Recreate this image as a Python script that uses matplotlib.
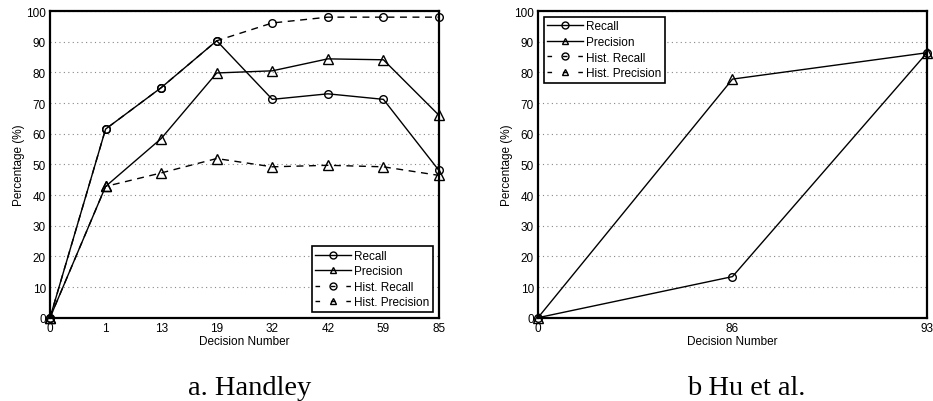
import matplotlib
matplotlib.use('Agg')
import matplotlib.pyplot as plt
from matplotlib.lines import Line2D

plt.rcParams['font.family'] = ['Liberation Sans', 'DejaVu Sans']

# a. Handley
handley_ticks = ['0', '1', '13', '19', '32', '42', '59', '85']
handley_recall = [0, 61.5, 75.0, 90.3, 71.2, 73.0, 71.2, 48.0]
handley_precision = [0, 42.8, 58.4, 79.8, 80.5, 84.4, 84.1, 66.0]
handley_hist_recall = [0, 61.5, 75.0, 90.3, 96.1, 98.0, 98.0, 98.0]
handley_hist_precision = [0, 42.8, 47.2, 51.9, 49.2, 49.7, 49.2, 46.4]

# b Hu et al.
hu_ticks = ['0', '86', '93']
hu_recall = [0, 13.4, 86.4]
hu_precision = [0, 77.8, 86.4]

fig = plt.figure(figsize=(9.33, 4.02), dpi=100)
ax1 = fig.add_axes([0.0536, 0.2072, 0.4169, 0.7629])
ax2 = fig.add_axes([0.5766, 0.2072, 0.4170, 0.7629])

base = dict(color='black', lw=1.0, markerfacecolor='none',
            markeredgecolor='black', markeredgewidth=1.0, clip_on=False, zorder=3)
circ = dict(marker='o', markersize=5.5, **base)
tri = dict(marker='^', markersize=6.5, **base)
dash = (0, (5, 4))


def style(ax, ticks):
    n = len(ticks)
    ax.set_xlim(0, n - 1)
    ax.set_ylim(0, 100)
    ax.set_xticks(range(n))
    ax.set_xticklabels(ticks)
    ax.set_yticks(range(0, 101, 10))
    ax.tick_params(labelsize=8.5, length=0, pad=3)
    ax.yaxis.grid(True, linestyle=(0, (1, 3)), color='#888888', lw=0.8)
    ax.set_axisbelow(True)
    for s in ax.spines.values():
        s.set_linewidth(1.6)
    ax.set_xlabel('Decision Number', fontsize=8.5, labelpad=1)
    ax.set_ylabel('Percentage (%)', fontsize=8.5, labelpad=1)


x1 = range(len(handley_ticks))
ax1.plot(x1, handley_hist_recall, ls=dash, **circ)
ax1.plot(x1, handley_hist_precision, ls=dash, **tri)
ax1.plot(x1, handley_recall, ls='-', **circ)
ax1.plot(x1, handley_precision, ls='-', **tri)
style(ax1, handley_ticks)

x2 = range(len(hu_ticks))
ax2.plot(x2, hu_recall, ls='-', **circ)
ax2.plot(x2, hu_precision, ls='-', **tri)
style(ax2, hu_ticks)

lkw = dict(color='black', lw=1.0, markersize=5, markerfacecolor='none',
           markeredgecolor='black', markeredgewidth=1.0)
handles = [
    Line2D([], [], ls='-', marker='o', **lkw),
    Line2D([], [], ls='-', marker='^', **lkw),
    Line2D([], [], ls=(0, (3.3, 7.8)), marker='o', **lkw),
    Line2D([], [], ls=(0, (3.3, 7.8)), marker='^', **lkw),
]
labels = ['Recall', 'Precision', 'Hist. Recall', 'Hist. Precision']
for ax, loc in [(ax1, 'lower right'), (ax2, 'upper left')]:
    leg = ax.legend(handles, labels, loc=loc, fontsize=8.5, fancybox=False,
                    framealpha=1, edgecolor='black', handlelength=3.0,
                    handletextpad=0.3, labelspacing=0.3, borderpad=0.3,
                    borderaxespad=0.5)
    leg.get_frame().set_linewidth(1.2)

serif = ['Liberation Serif', 'DejaVu Serif']
fig.text(0.268, 0.018, 'a. Handley', fontsize=20.5, family=serif,
         ha='center', va='baseline')
fig.text(0.80, 0.018, 'b Hu et al.', fontsize=20.5, family=serif,
         ha='center', va='baseline')

fig.savefig('out.png', dpi=100)
